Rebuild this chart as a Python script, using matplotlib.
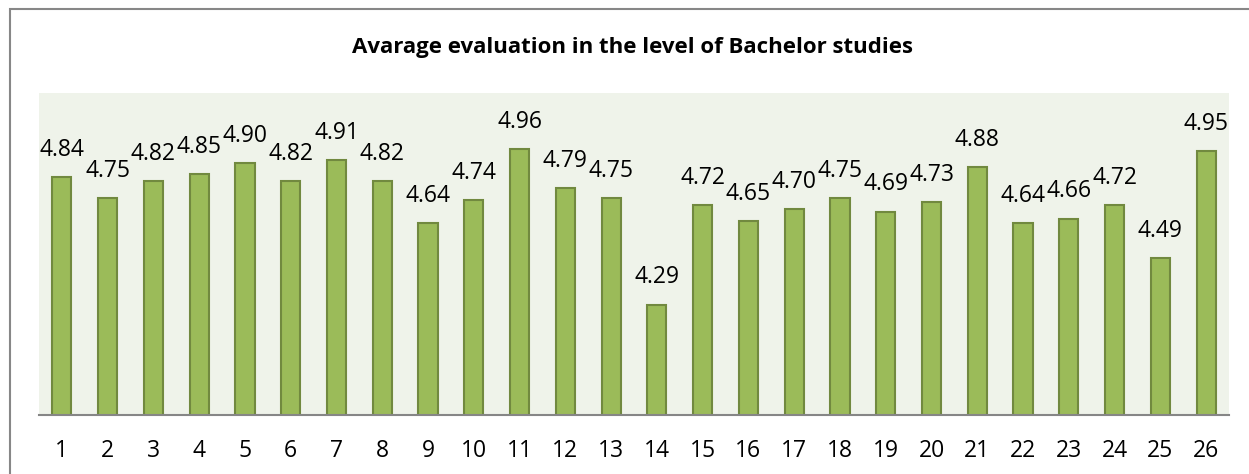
import matplotlib
matplotlib.use("Agg")
import matplotlib.pyplot as plt
from matplotlib.patches import Rectangle

categories = [str(i) for i in range(1, 27)]
values = [4.84, 4.75, 4.82, 4.85, 4.90, 4.82, 4.91, 4.82, 4.64, 4.74, 4.96, 4.79, 4.75,
          4.29, 4.72, 4.65, 4.70, 4.75, 4.69, 4.73, 4.88, 4.64, 4.66, 4.72, 4.49, 4.95]
title = "Avarage evaluation in the level of Bachelor studies"

plt.rcParams['font.family'] = ['Open Sans', 'DejaVu Sans']

W, H = 1249, 474
fig = plt.figure(figsize=(W / 100, H / 100), dpi=100)
fig.patch.set_facecolor('white')

# outer chart frame
fig.add_artist(Rectangle((10 / W, -0.1), 2, (1 - 9 / H) + 0.1, transform=fig.transFigure,
                         fill=False, edgecolor='#878787', linewidth=1.5))

ax = fig.add_axes([39 / W, 59 / H, (1229 - 39) / W, (415 - 93) / H])
ax.set_facecolor('#EFF3EA')
x = list(range(len(categories)))
bars = ax.bar(x, values, width=0.42, bottom=0, color='#9BBB59', edgecolor='#71893F', linewidth=1.5)
ax.set_ylim(3.815, 5.2)
ax.set_xlim(-0.5, len(categories) - 0.5)
ax.set_yticks([])
ax.set_xticks(x)
ax.set_xticklabels(categories, fontsize=16.5)
ax.tick_params(axis='x', length=0, pad=17)
for s in ['left', 'right', 'top']:
    ax.spines[s].set_visible(False)
ax.spines['bottom'].set_color('#868686')
ax.spines['bottom'].set_linewidth(1.5)

for xi, v in zip(x, values):
    ax.annotate(f"{v:.2f}", (xi, v), xytext=(0, 19.5), textcoords='offset points',
                ha='center', va='center', fontsize=16.5, color='black')

fig.text(633 / W, 1 - 47 / H, title, ha='center', va='center', fontsize=16, fontweight='bold')

fig.savefig('out.png', dpi=100)
